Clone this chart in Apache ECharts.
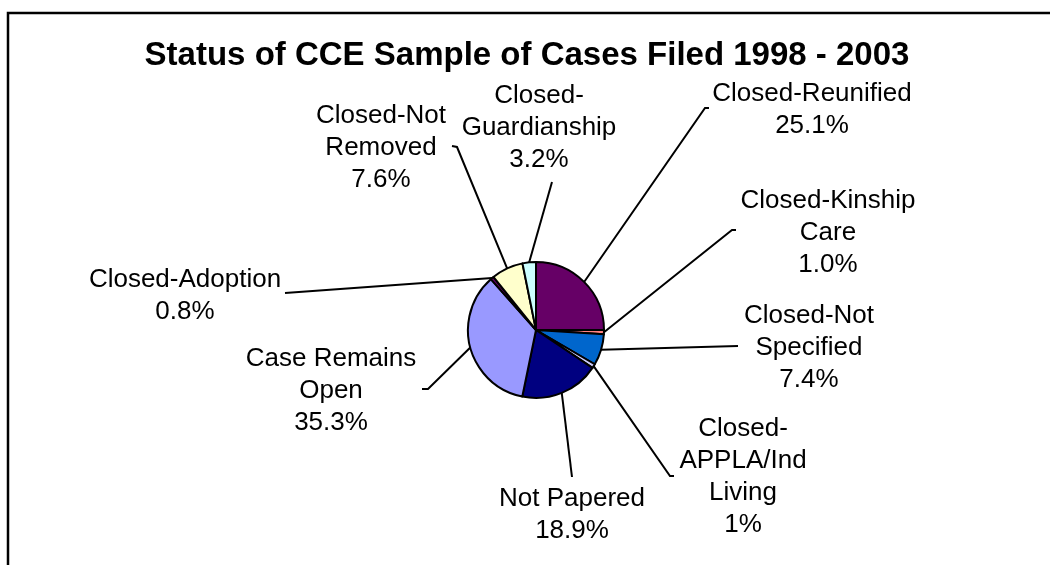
<!DOCTYPE html>
<html>
<head>
<meta charset="utf-8">
<script src="https://cdn.jsdelivr.net/npm/echarts@6/dist/echarts.min.js"></script>
<style>
  html, body { margin: 0; padding: 0; background: #fff; }
  #chart { width: 1050px; height: 565px; }
</style>
</head>
<body>
<div id="chart"></div>
<script>
// slices, clockwise from 12 o'clock
const categories = ['Closed-Reunified', 'Closed-Kinship Care', 'Closed-Not Specified', 'Closed-APPLA/Ind Living',
    'Not Papered', 'Case Remains Open', 'Closed-Adoption', 'Closed-Not Removed', 'Closed-Guardianship'];
const values = [25.1, 1.0, 7.4, 1.0, 18.9, 35.3, 0.8, 7.6, 3.2];
const pctLabels = ['25.1%', '1.0%', '7.4%', '1%', '18.9%', '35.3%', '0.8%', '7.6%', '3.2%'];
const labelNames = ['Closed-Reunified', 'Closed-Kinship\nCare', 'Closed-Not\nSpecified', 'Closed-\nAPPLA/Ind\nLiving',
    'Not Papered', 'Case Remains\nOpen', 'Closed-Adoption', 'Closed-Not\nRemoved', 'Closed-\nGuardianship'];
const colors = ['#660066', '#FF8080', '#0066CC', '#CCCCFF', '#000080', '#9999FF', '#660066', '#FFFFCC', '#CCFFFF'];

// where each label sits (block centre) and where its leader line ends
const labelPos = [[812, 110], [828, 233], [809, 348], [743, 477], [572, 515], [331, 391], [185, 296], [381, 148], [539, 128]];
const lineEnds = [
    [[705, 108], [709, 108]],
    [[732, 230], [736, 230]],
    [[738, 346]],
    [[670, 476], [674, 476]],
    [[572, 477]],
    [[428, 389], [422, 389]],
    [[285, 293]],
    [[457, 147], [452, 146]],
    [[552, 182]]
];

const chart = echarts.init(document.getElementById('chart'));

chart.setOption({
    animation: false,
    backgroundColor: '#fff',
    title: {
        text: 'Status of CCE Sample of Cases Filed 1998 - 2003',
        left: 522,
        top: 34,
        textAlign: 'center',
        textStyle: { fontFamily: 'Liberation Sans, Arial', fontSize: 33, fontWeight: 'bold', color: '#000' }
    },
    graphic: [{
        type: 'polyline',
        shape: { points: [[8, 570], [8, 13], [1055, 13]] },
        style: { stroke: '#000', lineWidth: 2.5, fill: null }
    }],
    series: [{
        type: 'pie',
        center: [536, 330],
        radius: 68,
        startAngle: 90,
        clockwise: true,
        avoidLabelOverlap: false,
        itemStyle: { borderColor: '#000', borderWidth: 2 },
        label: {
            show: true,
            position: 'outside',
            color: '#000',
            fontFamily: 'Liberation Sans, Arial',
            fontSize: 26,
            lineHeight: 32,
            align: 'center',
            formatter: (p) => labelNames[p.dataIndex] + '\n' + pctLabels[p.dataIndex]
        },
        labelLine: { show: true, lineStyle: { color: '#000', width: 2 } },
        labelLayout: (params) => {
            const i = params.dataIndex;
            const start = params.labelLinePoints ? params.labelLinePoints[0] : lineEnds[i][0];
            return {
                x: labelPos[i][0],
                y: labelPos[i][1],
                align: 'center',
                verticalAlign: 'middle',
                labelLinePoints: [start].concat(lineEnds[i])
            };
        },
        emphasis: { disabled: true },
        data: categories.map((c, i) => ({
            name: c,
            value: values[i],
            itemStyle: { color: colors[i] }
        }))
    }]
});
</script>
</body>
</html>
